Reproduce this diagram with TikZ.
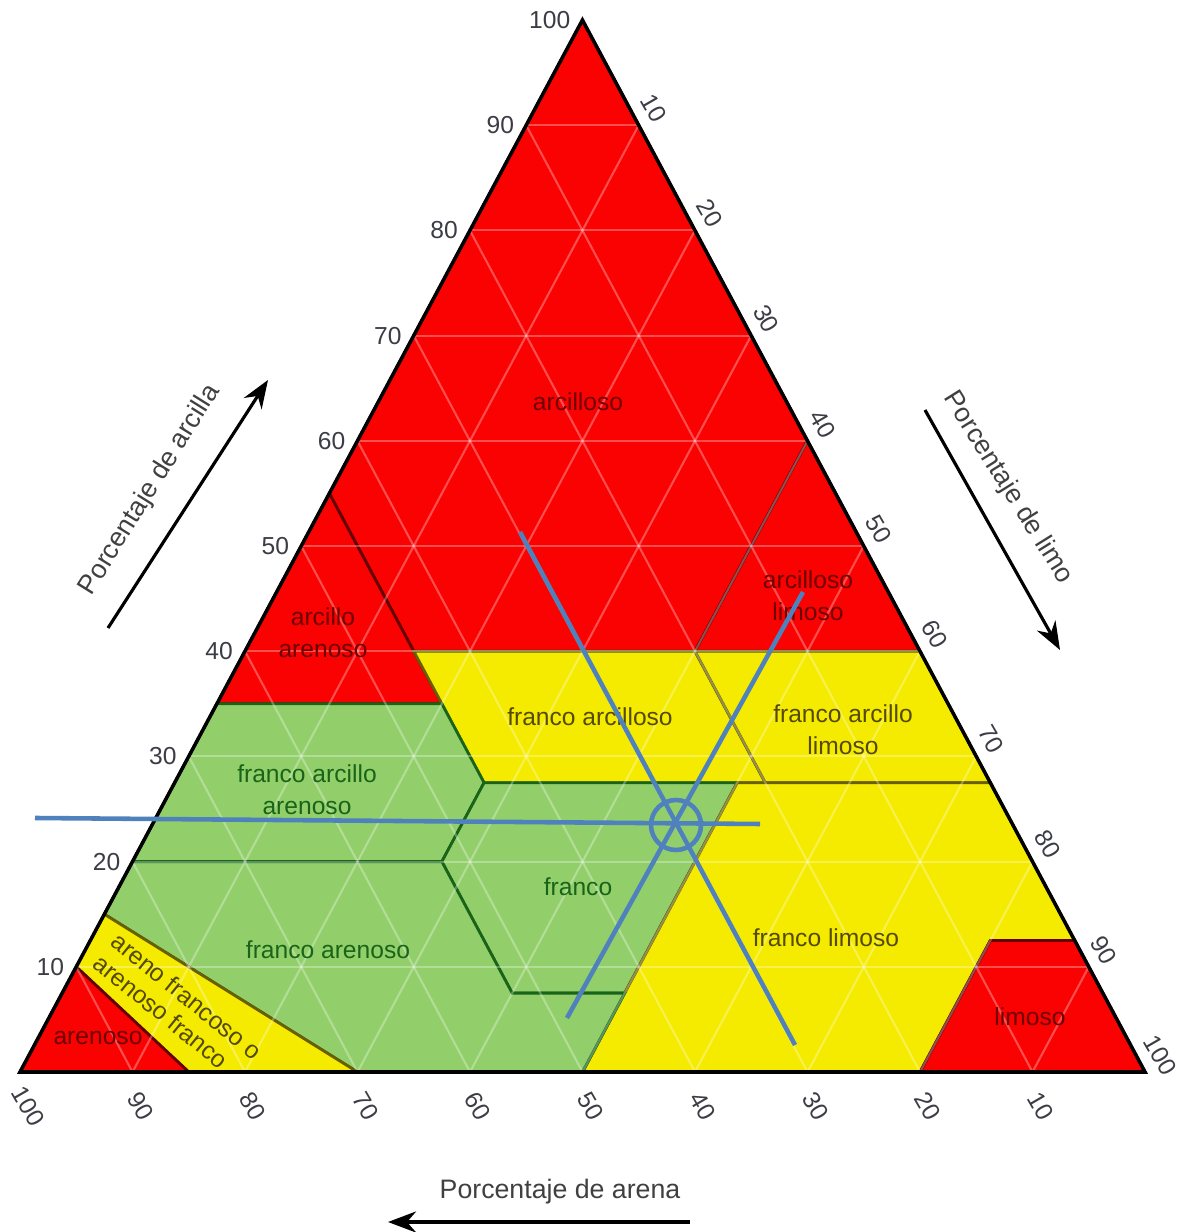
\documentclass[tikz,border=0pt]{standalone}
\usepackage{fontspec}
\setmainfont{Liberation Sans}
\usetikzlibrary{arrows.meta}

\definecolor{claired}{RGB}{250,2,2}
\definecolor{loamyellow}{RGB}{245,235,0}
\definecolor{sandgreen}{RGB}{146,207,106}
\definecolor{redline}{RGB}{100,0,0}
\definecolor{yellowline}{RGB}{105,95,0}
\definecolor{greenline}{RGB}{25,100,25}
\definecolor{redtext}{RGB}{110,0,0}
\definecolor{yellowtext}{RGB}{85,75,0}
\definecolor{greentext}{RGB}{25,100,25}
\definecolor{markblue}{RGB}{79,129,189}
\definecolor{tickgray}{RGB}{60,60,70}

\begin{document}
\begin{tikzpicture}[
  redzone/.style={fill=claired,draw=redline,line width=0.8pt},
  yellowzone/.style={fill=loamyellow,draw=yellowline,line width=0.8pt},
  greenzone/.style={fill=sandgreen,draw=greenline,line width=0.8pt},
  gridline/.style={draw=white,opacity=0.3,line width=0.6pt},
  zonelabel/.style={font=\fontsize{7}{9}\selectfont,align=center,inner sep=0pt},
  ticklabel/.style={font=\fontsize{7}{8}\selectfont,text=tickgray,inner sep=1pt},
  axistitle/.style={font=\fontsize{7.6}{9}\selectfont,text=black!75,inner sep=0pt},
  axisarrow/.style={-{Stealth[length=8pt,width=6pt]},line width=0.9pt},
  reading/.style={draw=markblue,line width=1.3pt}
]
\useasboundingbox (0,0) rectangle (11.78,12.32);

% ternary frame: x = percent silt, y = percent clay
\begin{scope}[shift={(0.20,1.60)},x={(0.1125cm,0cm)},y={(0.05625cm,0.1052cm)}]
\coordinate (sand) at (0,0);
\coordinate (silt) at (100,0);
\coordinate (clay) at (0,100);

% Draw the texture classes
\draw[redzone] (0,100) -- (0,55) -- (15,40) -- (40,40) -- (40,60) -- cycle;
\draw[redzone] (40,60) -- (40,40) -- (60,40) -- cycle;
\draw[redzone] (0,55) -- (0,35) -- (20,35) -- cycle;
\draw[yellowzone] (15,40) -- (40,40) -- (52.5,27.5) -- (27.5,27.5) -- cycle;
\draw[yellowzone] (40,40) -- (60,40) -- (72.5,27.5) -- (52.5,27.5) -- cycle;
\draw[greenzone] (0,35) -- (20,35) -- (27.5,27.5) -- (27.5,20) -- (0,20) -- cycle;
\draw[greenzone] (27.5,27.5) -- (50,27.5) -- (50,7.5) -- (40,7.5) -- (27.5,20) -- cycle;
\draw[yellowzone] (50,27.5) -- (72.5,27.5) -- (87.5,12.5) -- (80,12.5) -- (80,0) -- (50,0) -- (50,7.5) -- cycle;
\draw[redzone] (80,12.5) -- (87.5,12.5) -- (100,0) -- (80,0) -- cycle;
\draw[greenzone] (0,20) -- (27.5,20) -- (40,7.5) -- (50,7.5) -- (50,0) -- (30,0) -- (0,15) -- cycle;
\draw[yellowzone] (0,15) -- (30,0) -- (15,0) -- (0,10) -- cycle;
\draw[redzone] (0,10) -- (15,0) -- (0,0) -- cycle;

% Draw the 10 percent grid
\foreach \i in {10,20,...,90} {
  \draw[gridline] (0,\i) -- (100-\i,\i);
  \draw[gridline] (\i,0) -- (\i,100-\i);
  \draw[gridline] (100-\i,0) -- (0,100-\i);
}

\draw[line width=1pt] (sand) -- (silt) -- (clay) -- cycle;

% tick labels on the three sides
\foreach \v in {10,20,...,100} {
  \node[ticklabel,anchor=east,xshift=-0.08cm] (cl\v) at (0,\v) {\v};
  \node[ticklabel,xshift=0.15cm,yshift=0.17cm,rotate=-60] (si\v) at (\v,100-\v) {\v};
  \node[ticklabel,xshift=0.08cm,yshift=-0.34cm,rotate=-60] (sa\v) at (100-\v,0) {\v};
}
\end{scope}

% class names
\node[zonelabel,text=redtext] (arcilloso) at (5.78,8.30) {arcilloso};
\node[zonelabel,text=redtext] (arclim) at (8.08,6.36) {arcilloso\\limoso};
\node[zonelabel,text=redtext] (arcare) at (3.23,5.99) {arcillo\\arenoso};
\node[zonelabel,text=yellowtext] (frarc) at (5.90,5.15) {franco arcilloso};
\node[zonelabel,text=yellowtext] (frarclim) at (8.43,5.02) {franco arcillo\\limoso};
\node[zonelabel,text=greentext] (frarcare) at (3.07,4.42) {franco arcillo\\arenoso};
\node[zonelabel,text=greentext] (franco) at (5.78,3.45) {franco};
\node[zonelabel,text=greentext] (frare) at (3.28,2.82) {franco arenoso};
\node[zonelabel,text=yellowtext] (frlim) at (8.26,2.94) {franco limoso};
\node[zonelabel,text=redtext] (limoso) at (10.30,2.15) {limoso};
\node[zonelabel,text=redtext] (arenoso) at (0.98,1.94) {arenoso};
\node[zonelabel,text=yellowtext,align=left,font=\fontsize{7}{8}\selectfont,rotate=-39] (arefr) at (1.78,2.25) {areno francoso o\\arenoso franco};

% axis titles and arrows
\node[axistitle,rotate=58] (tarcilla) at (1.50,7.42) {Porcentaje de arcilla};
\node[axistitle,rotate=-58] (tlimo) at (10.08,7.44) {Porcentaje de limo};
\node[axistitle] (tarena) at (5.60,0.40) {Porcentaje de arena};
\coordinate (a1) at (1.08,6.04);
\coordinate (a2) at (2.68,8.52);
\coordinate (b1) at (9.25,8.22);
\coordinate (b2) at (10.60,5.82);
\coordinate (c1) at (6.90,0.10);
\coordinate (c2) at (3.88,0.10);
\draw[axisarrow] (a1) -- (a2);
\draw[axisarrow] (b1) -- (b2);
\draw[axisarrow] (c1) -- (c2);

% reading of the sample
\coordinate (h1) at (0.35,4.14);
\coordinate (h2) at (7.60,4.08);
\coordinate (d1) at (5.20,7.00);
\coordinate (d2) at (7.95,1.87);
\coordinate (e1) at (8.03,6.40);
\coordinate (e2) at (5.67,2.14);
\coordinate (sample) at (6.76,4.07);
\draw[reading] (h1) -- (h2);
\draw[reading] (d1) -- (d2);
\draw[reading] (e1) -- (e2);
\draw[reading] (sample) circle (0.25);
\end{tikzpicture}
\end{document}
